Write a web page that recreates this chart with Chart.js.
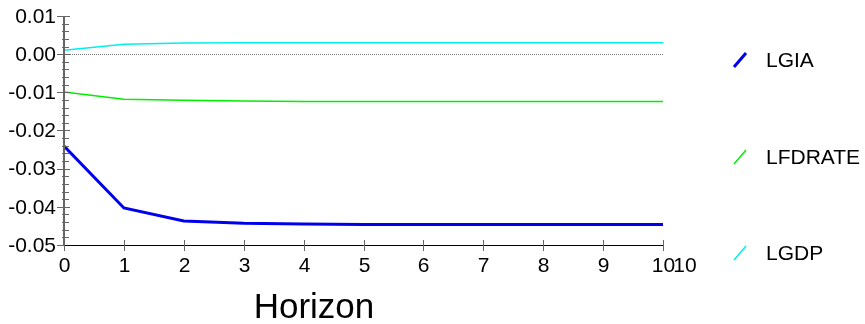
<!DOCTYPE html>
<html>
<head>
<meta charset="utf-8">
<script src="https://cdn.jsdelivr.net/npm/chart.js@4/dist/chart.umd.min.js"></script>
<style>
  html, body { margin: 0; padding: 0; background: #fff; }
  #wrap { width: 865px; height: 324px; position: relative; }
</style>
</head>
<body>
<div id="wrap"><canvas id="chart"></canvas></div>
<script>
// horizon steps and responses
const horizon = [0, 1, 2, 3, 4, 5, 6, 7, 8, 9, 10];
const lgia    = [-0.0241, -0.0403, -0.0437, -0.0443, -0.0445, -0.0446, -0.0446, -0.0446, -0.0446, -0.0446, -0.0446];
const lfdrate = [-0.0099, -0.0118, -0.0121, -0.0123, -0.0124, -0.0124, -0.0124, -0.0124, -0.0124, -0.0124, -0.0124];
const lgdp    = [0.0010, 0.0026, 0.0029, 0.0030, 0.0030, 0.0030, 0.0030, 0.0030, 0.0030, 0.0030, 0.0030];
const yTicks  = [0.01, 0.00, -0.01, -0.02, -0.03, -0.04, -0.05];
const yLabels = ['0.01', '0.00', '-0.01', '-0.02', '-0.03', '-0.04', '-0.05'];

const FONT = '"Liberation Sans", Arial, sans-serif';

const toPts = arr => arr.map((v, i) => ({ x: horizon[i], y: v }));

// draw the axes, ticks, labels and legend by hand
const axesPlugin = {
  id: 'axesPlugin',
  afterDatasetsDraw(chart) {
    const ctx = chart.ctx;
    const xs = chart.scales.x, ys = chart.scales.y;
    const left = xs.left, right = xs.right, top = ys.top, bottom = ys.bottom;
    ctx.save();

    // y axis
    ctx.strokeStyle = '#666';
    ctx.lineWidth = 2;
    ctx.beginPath();
    ctx.moveTo(left, top);
    ctx.lineTo(left, bottom);
    ctx.stroke();

    ctx.lineWidth = 1;
    for (let v = -0.05; v <= 0.01001; v += 0.002) {
      const y = Math.round(ys.getPixelForValue(v)) + 0.5;
      const major = Math.abs(Math.round(v * 100) - v * 100) < 1e-6;
      ctx.beginPath();
      ctx.moveTo(left - (major ? 7 : 2), y);
      ctx.lineTo(left + (major ? 6 : 5), y);
      ctx.stroke();
    }

    ctx.fillStyle = '#000';
    ctx.font = '21px ' + FONT;
    ctx.textAlign = 'right';
    ctx.textBaseline = 'middle';
    yTicks.forEach((v, i) => {
      ctx.fillText(yLabels[i], left - 8, ys.getPixelForValue(v) + 1);
    });

    // x axis
    ctx.strokeStyle = '#000';
    ctx.beginPath();
    ctx.moveTo(left, bottom + 0.5);
    ctx.lineTo(right, bottom + 0.5);
    ctx.stroke();
    ctx.strokeStyle = '#666';
    ctx.textAlign = 'center';
    ctx.textBaseline = 'alphabetic';
    horizon.forEach(h => {
      const x = Math.round(xs.getPixelForValue(h)) + 0.5;
      ctx.beginPath();
      ctx.moveTo(x, bottom - 5);
      ctx.lineTo(x, bottom + 6);
      ctx.stroke();
      ctx.fillText(String(h), x, bottom + 27);
    });
    ctx.fillText('10', xs.getPixelForValue(10) + 22, bottom + 27);

    ctx.font = '35px ' + FONT;
    ctx.fillText('Horizon', 314, 318);

    // legend
    ctx.font = '21px ' + FONT;
    ctx.textAlign = 'left';
    ctx.textBaseline = 'middle';
    const rows = [60, 157, 253];
    chart.data.datasets.forEach((ds, i) => {
      const y = rows[i];
      ctx.strokeStyle = ds.borderColor;
      ctx.lineWidth = ds.borderWidth;
      ctx.beginPath();
      ctx.moveTo(734, y + 7);
      ctx.lineTo(746, y - 7);
      ctx.stroke();
      ctx.fillStyle = '#000';
      ctx.fillText(ds.label, 766, y + 1);
    });
    ctx.restore();
  }
};

const zeroLine = {
  id: 'zeroLine',
  beforeDatasetsDraw(chart) {
    const ctx = chart.ctx;
    const xs = chart.scales.x, ys = chart.scales.y;
    const y = Math.round(ys.getPixelForValue(0)) + 0.5;
    ctx.save();
    ctx.strokeStyle = '#777';
    ctx.lineWidth = 1;
    ctx.setLineDash([1, 1]);
    ctx.beginPath();
    ctx.moveTo(xs.left, y);
    ctx.lineTo(xs.right, y);
    ctx.stroke();
    ctx.restore();
  }
};

new Chart(document.getElementById('chart'), {
  type: 'line',
  data: {
    datasets: [
      { label: 'LGIA', data: toPts(lgia), borderColor: '#0000ee', borderWidth: 3 },
      { label: 'LFDRATE', data: toPts(lfdrate), borderColor: '#00ee00', borderWidth: 1.5 },
      { label: 'LGDP', data: toPts(lgdp), borderColor: '#00eeee', borderWidth: 1.5 }
    ]
  },
  options: {
    responsive: true,
    maintainAspectRatio: false,
    animation: false,
    layout: { padding: { left: 64, right: 202, top: 16, bottom: 79 } },
    elements: { point: { radius: 0 }, line: { tension: 0 } },
    plugins: { legend: { display: false }, tooltip: { enabled: false } },
    scales: {
      x: { type: 'linear', min: 0, max: 10, display: false },
      y: { min: -0.05, max: 0.01, display: false }
    }
  },
  plugins: [zeroLine, axesPlugin]
});
</script>
</body>
</html>
